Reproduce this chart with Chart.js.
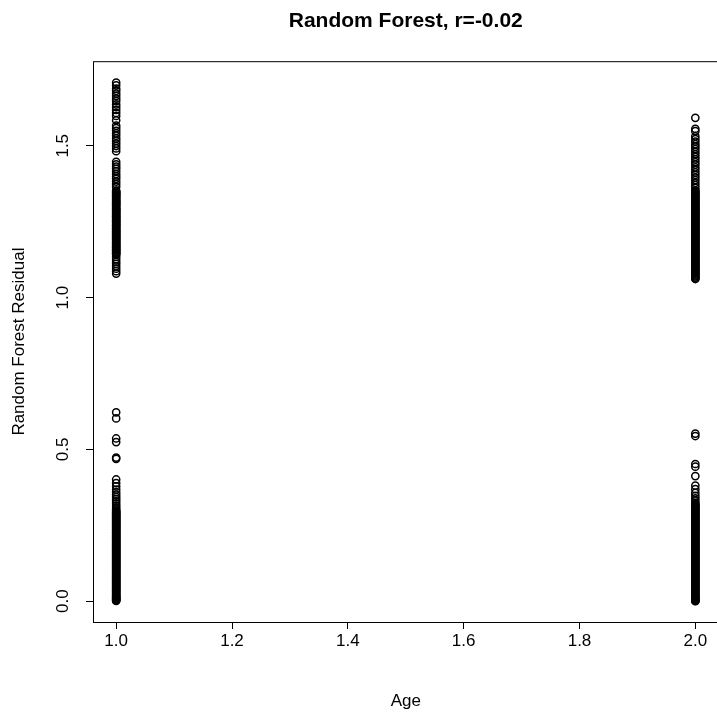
<!DOCTYPE html>
<html>
<head>
<meta charset="utf-8">
<script src="https://cdn.jsdelivr.net/npm/chart.js@4/dist/chart.umd.min.js"></script>
<style>
  html, body { margin: 0; padding: 0; background: #fff; overflow: hidden; }
  #wrap { width: 717px; height: 715px; overflow: hidden; }
</style>
</head>
<body>
<div id="wrap"><canvas id="residChart" width="724" height="715"></canvas></div>
<script>
// residuals, one array per age group
const age1Residuals = [
  1.708, 1.699, 1.688, 1.681, 1.672, 1.664, 1.655, 1.647, 1.636, 1.627, 1.618, 1.608, 1.598,
  1.584, 1.566, 1.558, 1.549, 1.541, 1.533, 1.524, 1.516, 1.507, 1.499, 1.491, 1.482,
  1.447, 1.439, 1.431, 1.424, 1.416, 1.407, 1.399, 1.391, 1.382, 1.374, 1.365, 1.352,
  1.346, 1.341, 1.335, 1.329, 1.322, 1.316, 1.311, 1.305, 1.298, 1.292, 1.287, 1.281,
  1.275, 1.269, 1.264, 1.258, 1.252, 1.247, 1.241, 1.236, 1.229, 1.224, 1.218, 1.213,
  1.207, 1.202, 1.196, 1.191, 1.185, 1.179, 1.174, 1.168, 1.163, 1.157, 1.152, 1.146,
  1.141, 1.134, 1.126, 1.118, 1.111, 1.103, 1.095, 1.087, 1.079,
  1.349, 1.344, 1.338, 1.332, 1.325, 1.319, 1.313, 1.308, 1.302, 1.295, 1.290, 1.284,
  1.278, 1.272, 1.266, 1.261, 1.255, 1.250, 1.244, 1.238, 1.233, 1.227, 1.221, 1.216,
  1.210, 1.205, 1.199, 1.193, 1.188, 1.182, 1.177, 1.171, 1.166, 1.160, 1.155, 1.149, 1.144,
  0.622, 0.602, 0.536, 0.524, 0.473, 0.469, 0.401, 0.389, 0.378, 0.368, 0.359, 0.351,
  0.343, 0.336, 0.329, 0.322, 0.315, 0.309, 0.303, 0.297, 0.291, 0.286, 0.281, 0.276,
  0.271, 0.266, 0.261, 0.256, 0.251, 0.246, 0.241, 0.236, 0.231, 0.226, 0.221, 0.216,
  0.211, 0.206, 0.201, 0.196, 0.191, 0.186, 0.181, 0.176, 0.171, 0.166, 0.161, 0.156,
  0.151, 0.146, 0.141, 0.136, 0.131, 0.126, 0.121, 0.116, 0.111, 0.106, 0.101, 0.096,
  0.091, 0.086, 0.081, 0.076, 0.071, 0.066, 0.061, 0.056, 0.051, 0.046, 0.041, 0.036,
  0.031, 0.026, 0.021, 0.016, 0.012, 0.008, 0.004, 0.001,
  0.298, 0.288, 0.278, 0.268, 0.258, 0.248, 0.238, 0.228, 0.218, 0.208, 0.198, 0.188,
  0.178, 0.168, 0.158, 0.148, 0.138, 0.128, 0.118, 0.108, 0.098, 0.088, 0.078, 0.068,
  0.058, 0.048, 0.038, 0.028, 0.018, 0.010, 0.006, 0.003,
  0.293, 0.283, 0.273, 0.263, 0.253, 0.243, 0.233, 0.223, 0.213, 0.203, 0.193, 0.183,
  0.173, 0.163, 0.153, 0.143, 0.133, 0.123, 0.113, 0.103, 0.093, 0.083, 0.073, 0.063,
  0.053, 0.043, 0.033, 0.023, 0.014
];
const age2Residuals = [
  1.592, 1.556, 1.548, 1.531, 1.522, 1.514, 1.505, 1.497, 1.489, 1.480, 1.472, 1.463,
  1.455, 1.446, 1.438, 1.429, 1.421, 1.412, 1.404, 1.395, 1.387, 1.378, 1.370, 1.361,
  1.353, 1.346, 1.340, 1.333, 1.327, 1.320, 1.314, 1.308, 1.301, 1.295, 1.289, 1.283,
  1.277, 1.271, 1.265, 1.259, 1.253, 1.247, 1.241, 1.235, 1.229, 1.223, 1.217, 1.211,
  1.205, 1.199, 1.193, 1.187, 1.181, 1.175, 1.169, 1.163, 1.157, 1.151, 1.145, 1.139,
  1.133, 1.127, 1.121, 1.115, 1.109, 1.103, 1.097, 1.091, 1.085, 1.079, 1.073, 1.066, 1.061,
  1.350, 1.343, 1.336, 1.330, 1.324, 1.317, 1.311, 1.305, 1.298, 1.292, 1.286, 1.280,
  1.274, 1.268, 1.262, 1.256, 1.250, 1.244, 1.238, 1.232, 1.226, 1.220, 1.214, 1.208,
  1.202, 1.196, 1.190, 1.184, 1.178, 1.172, 1.166, 1.160, 1.154, 1.148, 1.142, 1.136,
  1.130, 1.124, 1.118, 1.112, 1.106, 1.100, 1.094, 1.088, 1.082, 1.076, 1.070, 1.064,
  0.552, 0.544, 0.452, 0.443, 0.412, 0.381, 0.369, 0.357, 0.347, 0.339, 0.331, 0.324,
  0.317, 0.311, 0.305, 0.299, 0.293, 0.287, 0.281, 0.275, 0.269, 0.263, 0.257, 0.251,
  0.245, 0.239, 0.233, 0.227, 0.221, 0.215, 0.209, 0.203, 0.197, 0.191, 0.185, 0.179,
  0.173, 0.167, 0.161, 0.155, 0.149, 0.143, 0.137, 0.131, 0.125, 0.119, 0.113, 0.107,
  0.101, 0.095, 0.089, 0.083, 0.077, 0.071, 0.065, 0.059, 0.053, 0.047, 0.041, 0.035,
  0.029, 0.023, 0.017, 0.012, 0.007, 0.003, 0.000,
  0.320, 0.314, 0.308, 0.302, 0.296, 0.290, 0.284, 0.278, 0.272, 0.266, 0.260, 0.254,
  0.248, 0.242, 0.236, 0.230, 0.224, 0.218, 0.212, 0.206, 0.200, 0.194, 0.188, 0.182,
  0.176, 0.170, 0.164, 0.158, 0.152, 0.146, 0.140, 0.134, 0.128, 0.122, 0.116, 0.110,
  0.104, 0.098, 0.092, 0.086, 0.080, 0.074, 0.068, 0.062, 0.056, 0.050, 0.044, 0.038,
  0.032, 0.026, 0.020, 0.014, 0.009, 0.005, 0.001
];
const xTicks = [1.0, 1.2, 1.4, 1.6, 1.8, 2.0];
const yTicks = [0.0, 0.5, 1.0, 1.5];

const points = [
  ...age1Residuals.map((v) => ({ x: 1, y: v })),
  ...age2Residuals.map((v) => ({ x: 2, y: v })),
];

const FONT = "'Liberation Sans', Arial, Helvetica, sans-serif";

// R style frame around the plot region
const boxPlugin = {
  id: "box",
  afterDraw(chart) {
    const { ctx, chartArea: a } = chart;
    ctx.save();
    ctx.strokeStyle = "#000";
    ctx.lineWidth = 1;
    ctx.strokeRect(a.left + 0.5, a.top + 0.5, a.right - a.left, a.bottom - a.top);
    ctx.restore();
  },
};

new Chart(document.getElementById("residChart"), {
  type: "scatter",
  data: {
    datasets: [
      {
        data: points,
        pointStyle: "circle",
        pointRadius: 3.6,
        pointBorderWidth: 1.5,
        borderColor: "#000",
        backgroundColor: "rgba(0,0,0,0)",
      },
    ],
  },
  options: {
    responsive: false,
    animation: false,
    devicePixelRatio: 1,
    layout: { padding: { left: 0, right: 4, top: 0, bottom: 0 } },
    plugins: {
      legend: { display: false },
      tooltip: { enabled: false },
      title: {
        display: true,
        text: "Random Forest, r=-0.02",
        fullSize: false,
        color: "#000",
        font: { family: FONT, size: 21, weight: "bold" },
        padding: { top: 9, bottom: 27 },
      },
    },
    scales: {
      x: {
        type: "linear",
        min: 0.96,
        max: 2.04,
        afterBuildTicks: (s) => { s.ticks = xTicks.map((v) => ({ value: v })); },
        afterFit: (s) => { s.height = 93; },
        grid: { drawOnChartArea: false, drawTicks: true, tickLength: 7, color: "#000" },
        border: { display: false },
        ticks: {
          color: "#000",
          font: { family: FONT, size: 17 },
          padding: 2,
          maxRotation: 0,
          callback: (v) => Number(v).toFixed(1),
        },
        title: {
          display: true,
          text: "Age",
          color: "#000",
          font: { family: FONT, size: 17 },
          padding: { top: 0, bottom: 3 },
        },
      },
      y: {
        type: "linear",
        min: -0.0684,
        max: 1.7784,
        afterBuildTicks: (s) => { s.ticks = yTicks.map((v) => ({ value: v })); },
        afterFit: (s) => { s.width = 93; },
        grid: { drawOnChartArea: false, drawTicks: true, tickLength: 7, color: "#000" },
        border: { display: false },
        ticks: {
          color: "#000",
          font: { family: FONT, size: 17 },
          padding: 11,
          minRotation: 90,
          maxRotation: 90,
          crossAlign: "center",
          callback: (v) => Number(v).toFixed(1),
        },
        title: {
          display: true,
          text: "Random Forest Residual",
          color: "#000",
          font: { family: FONT, size: 17 },
          padding: { top: 9, bottom: 0 },
        },
      },
    },
  },
  plugins: [boxPlugin],
});
</script>
</body>
</html>
